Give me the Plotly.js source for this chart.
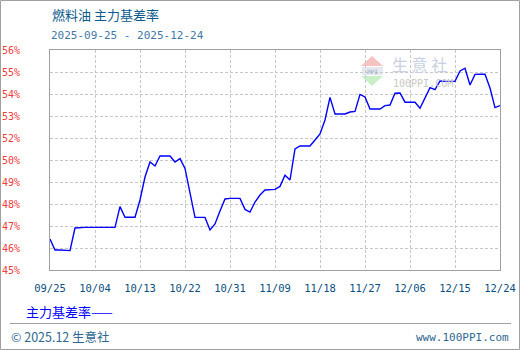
<!DOCTYPE html>
<html>
<head>
<meta charset="utf-8">
<script src="https://cdn.plot.ly/plotly-3.0.1.min.js"></script>
<style>
  html, body { margin: 0; padding: 0; background: #fff; }
  #chart { width: 520px; height: 350px; }
</style>
</head>
<body>
<div id="chart"></div>
<script>
// ---- data ----
const startDate = '2025-09-25';
const endDate = '2025-12-24';
const basisRate = [
  46.45, 45.9, 45.9, 45.9, 45.87, 47.0, 47.03, 47.03, 47.03, 47.03,
  47.03, 47.03, 47.03, 47.03, 48.07, 47.54, 47.54, 47.54, 48.4, 49.55,
  50.3, 50.1, 50.6, 50.6, 50.6, 50.3, 50.47, 49.98, 48.73, 47.53,
  47.53, 47.53, 46.9, 47.2, 47.85, 48.45, 48.48, 48.48, 48.48, 47.93,
  47.8, 48.3, 48.65, 48.9, 48.93, 48.93, 49.08, 49.64, 49.4, 50.95,
  51.1, 51.1, 51.1, 51.4, 51.7, 52.4, 53.53, 52.7, 52.7, 52.7,
  52.8, 52.83, 53.68, 53.55, 52.95, 52.95, 52.95, 53.12, 53.15, 53.74,
  53.75, 53.29, 53.29, 53.29, 52.99, 53.49, 54.02, 53.92, 54.35, 54.33,
  54.33, 54.33, 54.85, 54.99, 54.15, 54.68, 54.69, 54.69, 54.0, 53.02,
  53.12
];
const xTickDates = ['2025-09-25','2025-10-04','2025-10-13','2025-10-22','2025-10-31',
  '2025-11-09','2025-11-18','2025-11-27','2025-12-06','2025-12-15','2025-12-24'];
const xTickLabels = ['09/25','10/04','10/13','10/22','10/31','11/09','11/18','11/27','12/06','12/15','12/24'];
const yTickLabels = ['45%','46%','47%','48%','49%','50%','52%','53%','54%','55%','56%'];
const yAxisMin = 44.9, yAxisStep = 1.1;
const titleText = '燃料油 主力基差率';
const subtitleText = '2025-09-25 - 2025-12-24';
const seriesName = '主力基差率';

// dates for each daily value
const dates = [];
{
  const d0 = new Date(startDate + 'T00:00:00Z');
  for (let i = 0; i < basisRate.length; i++) {
    const d = new Date(d0.getTime() + i * 86400000);
    dates.push(d.toISOString().slice(0, 10));
  }
}
const yTickVals = yTickLabels.map((_, i) => +(yAxisMin + yAxisStep * i).toFixed(3));

// ---- layout helpers (pixel -> paper) ----
const L = 50, R = 500, T = 50, B = 270;
const px = x => (x - L) / (R - L);
const py = y => (B - y) / (B - T);

const mono = 'DejaVu Sans Mono, Liberation Mono, monospace';
const cjk = 'Noto Sans CJK SC, sans-serif';

const trace = {
  x: dates, y: basisRate, type: 'scatter', mode: 'lines',
  line: { color: '#0000ff', width: 1.4 },
  name: seriesName, showlegend: false, hoverinfo: 'skip'
};

const ann = (x, y, text, opts) => Object.assign({
  xref: 'paper', yref: 'paper', x: px(x), y: py(y), text: text,
  showarrow: false, xanchor: 'left', yanchor: 'middle'
}, opts);

const layout = {
  width: 520, height: 350,
  margin: { l: L, r: 520 - R, t: T, b: 350 - B, pad: 0 },
  paper_bgcolor: '#ffffff', plot_bgcolor: '#ffffff',
  xaxis: {
    type: 'date', range: [startDate, endDate],
    tickvals: xTickDates, ticktext: xTickLabels,
    showgrid: true, gridcolor: '#c8c8c8', griddash: '3px,2px', gridwidth: 1,
    showline: true, mirror: true, linecolor: '#a0a0a0', linewidth: 1,
    ticks: '', zeroline: false, fixedrange: true,
    ticklabelstandoff: 8,
    tickfont: { family: mono, size: 10.5, color: '#0b4f80' }
  },
  yaxis: {
    range: [yAxisMin, yAxisMin + yAxisStep * 10],
    tickvals: yTickVals, ticktext: yTickLabels,
    showgrid: true, gridcolor: '#c8c8c8', griddash: '3px,2px', gridwidth: 1,
    showline: true, mirror: true, linecolor: '#a0a0a0', linewidth: 1,
    ticks: '', zeroline: false, fixedrange: true,
    ticklabelstandoff: 27,
    tickfont: { family: mono, size: 10, color: '#f03c3c' }
  },
  shapes: [
    // outer frame
    { type: 'rect', xref: 'paper', yref: 'paper', x0: px(0.5), x1: px(519.5), y0: py(349.5), y1: py(0.5),
      line: { color: '#a0a0a0', width: 1 }, fillcolor: 'rgba(0,0,0,0)', layer: 'below' },
    // footer separator
    { type: 'line', xref: 'paper', yref: 'paper', x0: px(10), x1: px(511), y0: py(323.5), y1: py(323.5),
      line: { color: '#a0a0a0', width: 1 } },
    // watermark logo: red triangle
    { type: 'path', xref: 'paper', yref: 'paper', layer: 'below',
      path: `M ${px(372)} ${py(56)} L ${px(383)} ${py(66)} L ${px(361)} ${py(66)} Z`,
      fillcolor: '#f6c2c2', line: { width: 0 } },
    // band
    { type: 'rect', xref: 'paper', yref: 'paper', layer: 'below',
      x0: px(362), x1: px(383), y0: py(75), y1: py(67),
      fillcolor: '#e6e9f0', line: { width: 0 } },
    // green triangle
    { type: 'path', xref: 'paper', yref: 'paper', layer: 'below',
      path: `M ${px(361)} ${py(76)} L ${px(383)} ${py(76)} L ${px(372)} ${py(86)} Z`,
      fillcolor: '#c8efc8', line: { width: 0 } }
  ],
  annotations: [
    ann(50, 15, titleText, { font: { family: cjk, size: 13, color: '#0b5a8c' } }),
    ann(49, 35, subtitleText, { font: { family: mono, size: 11, color: '#3f78a8' } }),
    ann(24, 311, seriesName + '——', { font: { family: cjk, size: 13, color: '#0000ff' } }),
    ann(9, 336, '© 2025.12 生意社', { font: { family: cjk, size: 12.5, color: '#2f6790' } }),
    ann(511, 337, 'www.100PPI.com', { xanchor: 'right', font: { family: mono, size: 11, color: '#2f6790' } }),
    // watermark text
    ann(372, 71, 'PPI', { xanchor: 'center', font: { family: mono, size: 6, color: '#9aa8c4' } }),
    ann(390, 64, '生 意 社', { yanchor: 'middle', font: { family: cjk, size: 16, color: '#c9d0e2' } }),
    ann(391, 83.5, '100PPI.COM', { font: { family: mono, size: 10, color: '#c8c8c8' } })
  ]
};

Plotly.newPlot('chart', [trace], layout, { staticPlot: true, displayModeBar: false });
</script>
</body>
</html>
